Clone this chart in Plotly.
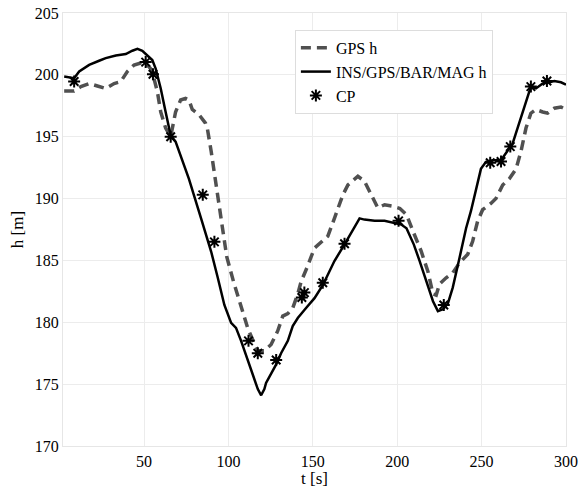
import plotly.graph_objects as go

t_gps = [2.7, 8.6, 12.6, 17.5, 22.4, 27.3, 32.3, 36.2, 40.1, 44.1, 48, 51, 53.9, 55.9, 57.9, 59.9,
         62.8, 65.8, 68.7, 71.7, 74.6, 76.6, 78.6, 82.5, 86.4, 87.6, 89.8, 92.7, 95.7, 99, 103, 107,
         111.5, 114.4, 117.4, 121.3, 125.3, 129.2, 132.2, 135.2, 138.1, 141.1, 143.1, 146.5, 151,
         155.9, 158.9, 162.8, 167.8, 170.8, 176.7, 180.6, 184.6, 188.5, 192.5, 196.7, 201.6, 205.5,
         209.4, 214.2, 218.2, 221.2, 223.1, 225.1, 229, 232.9, 236.9, 241.8, 244.7, 247.6, 250.6,
         255.5, 258.5, 262.5, 266.4, 270.4, 273.3, 276.3, 279.2, 282.2, 286.2, 289.1, 293.1, 297, 300]
h_gps = [198.7, 198.7, 199.05, 199.3, 199.1, 198.9, 199.3, 199.45, 200.27, 200.8, 200.95, 200.95,
         200.5, 199.7, 198.65, 197.0, 195.7, 195.0, 197.0, 197.97, 198.1, 197.97, 197.2, 196.8,
         196.1, 195.6, 193.8, 191.1, 188.4, 185.3, 183.3, 181.5, 179.5, 178.6, 177.7, 177.7, 178.2,
         179.3, 180.5, 180.7, 181.15, 182.3, 183.3, 184.4, 186.0, 186.6, 186.96, 188.4, 190.3,
         191.1, 191.8, 191.4, 190.3, 189.25, 189.5, 189.4, 189.2, 188.7, 187.35, 185.75, 184.1,
         182.3, 182.2, 183.1, 183.6, 184.0, 184.8, 185.5, 186.55, 188.15, 189.1, 189.6, 190.0,
         191.1, 191.6, 192.4, 193.8, 195.7, 196.9, 197.2, 197.0, 196.9, 197.3, 197.4, 197.2]

t_ins = [2.7, 8.6, 11.6, 17.5, 23.4, 27.3, 33.3, 39.2, 43.1, 46.1, 49, 52, 54.9, 56.9, 59.9, 62.8,
         65.8, 68.7, 71.7, 76.6, 83.8, 89.8, 93.7, 97.6, 101.6, 104.5, 107.5, 111.5, 115.4, 117.4,
         119.4, 121.3, 122.3, 125.3, 128.3, 131.2, 135.2, 138.1, 141.1, 146, 151, 155.9, 162.8,
         168.8, 173.7, 177.7, 180.6, 186.6, 192.5, 198.4, 202.4, 205.5, 209.8, 213.3, 217.3, 221.2,
         224.1, 227.1, 230, 232.9, 236.9, 240.8, 243.7, 246.6, 249.6, 252.6, 256.5, 261.5, 264.4,
         268.4, 271.3, 274.3, 277.3, 279.2, 282.2, 286.2, 290.1, 293.1, 297, 300]
h_ins = [199.86, 199.73, 200.27, 200.81, 201.14, 201.35, 201.57, 201.68, 201.95, 202.1, 201.95,
         201.6, 201.2, 200.5, 198.9, 197.0, 195.1, 194.6, 193.5, 191.6, 188.4, 185.7, 183.6, 181.4,
         179.95, 179.55, 178.5, 176.9, 175.5, 174.6, 174.1, 174.6, 175.1, 175.8, 176.6, 177.5,
         178.5, 179.7, 180.35, 181.15, 181.95, 183.0, 184.95, 186.3, 187.4, 188.4, 188.3, 188.2,
         188.2, 188.0, 187.9, 187.6, 186.3, 184.95, 183.3, 181.7, 180.9, 181.05, 181.5, 182.8,
         185.2, 187.6, 189.0, 190.8, 192.4, 192.97, 193.1, 193.1, 193.65, 194.46, 195.7, 197.0,
         198.4, 199.05, 198.9, 199.3, 199.4, 199.5, 199.4, 199.2]

t_cp = [8.6, 51, 55.3, 65.8, 84.8, 91.7, 111.9, 117.4, 128.3, 143.5, 145, 155.9, 168.8, 200.8,
        227.6, 255.1, 261.5, 267, 279.2, 288.7]
h_cp = [199.46, 201.03, 200.05, 195.0, 190.3, 186.5, 178.5, 177.5, 176.95, 182.0, 182.4, 183.2,
        186.35, 188.2, 181.4, 192.9, 193.0, 194.2, 199.05, 199.5]

x_ticks = [50, 100, 150, 200, 250, 300]
y_ticks = [170, 175, 180, 185, 190, 195, 200, 205]

FONT = "Liberation Serif"

fig = go.Figure()
fig.add_trace(go.Scatter(x=t_gps, y=h_gps, mode="lines", name="GPS h",
                         line=dict(color="#505050", width=3.5, dash="10px,6px")))
fig.add_trace(go.Scatter(x=t_ins, y=h_ins, mode="lines", name="INS/GPS/BAR/MAG h",
                         line=dict(color="black", width=2.5)))
fig.add_trace(go.Scatter(x=t_cp, y=h_cp, mode="markers", name="CP",
                         marker=dict(symbol="asterisk-open", size=10, color="black",
                                     line=dict(color="black", width=2))))

axis_common = dict(showgrid=True, gridcolor="#ececec", gridwidth=1, zeroline=False,
                   showline=True, linecolor="#e6e6e6", linewidth=1, mirror=True,
                   ticks="", automargin=False,
                   tickfont=dict(family=FONT, size=16, color="black"))

fig.update_layout(
    width=585, height=488,
    margin=dict(l=63, r=19, t=13, b=42),
    paper_bgcolor="white", plot_bgcolor="white",
    font=dict(family=FONT, size=17, color="black"),
    showlegend=True,
    legend=dict(x=0.461, y=0.961, xanchor="left", yanchor="top",
                bgcolor="white", bordercolor="#dddddd", borderwidth=1,
                font=dict(family=FONT, size=16, color="black"),
                tracegroupgap=0, itemwidth=30),
    xaxis=dict(range=[2, 300], tickvals=x_ticks, ticklabelstandoff=1,
               title=dict(text="t [s]", font=dict(family=FONT, size=17), standoff=3),
               **axis_common),
    yaxis=dict(range=[170, 205], tickvals=y_ticks,
               title=dict(text="h [m]", font=dict(family=FONT, size=17), standoff=6),
               **axis_common),
)

fig.write_html("out.html")
